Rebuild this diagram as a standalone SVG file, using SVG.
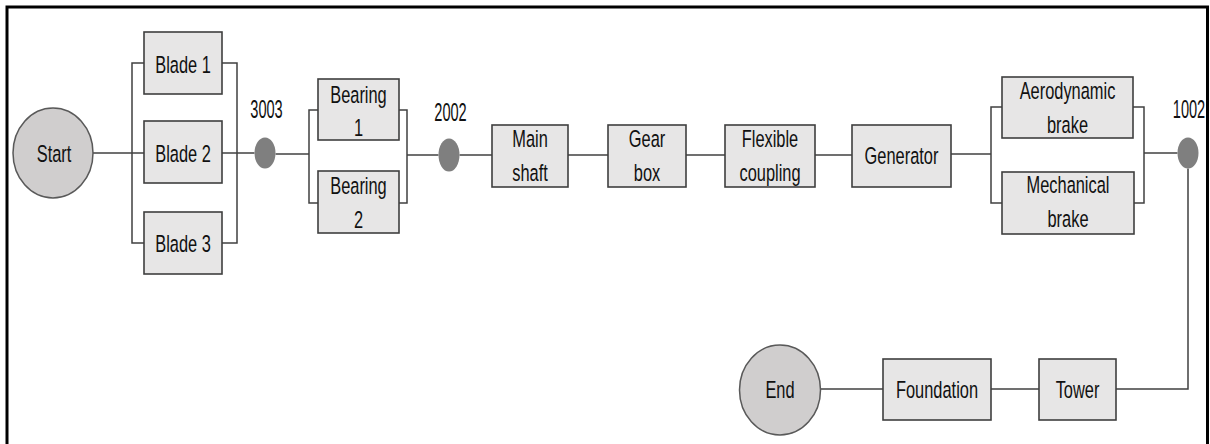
<svg xmlns="http://www.w3.org/2000/svg" width="1210" height="444" viewBox="0 0 1210 444">
<style>
.box{fill:#e7e6e6;stroke:#3f3f3f;stroke-width:1.6}
.term{fill:#d0cece;stroke:#595959;stroke-width:1.5}
.jn{fill:#7f7f7f;stroke:none}
.ln{fill:none;stroke:#404040;stroke-width:1.5}
.t{font-family:"Liberation Sans",Arial,sans-serif;font-size:16.4px;fill:#111;text-anchor:middle}
.lb{font-family:"Liberation Sans",Arial,sans-serif;font-size:14.6px;fill:#111;text-anchor:middle}
</style>
<rect x="0" y="0" width="1210" height="444" fill="#ffffff"/>
<path d="M7,444 V7 H1207.5 V444" fill="none" stroke="#000" stroke-width="3"/>
<g id="connectors">
<path class="ln" d="M93,153 H144"/>
<path class="ln" d="M144,63 H132 V243 H144"/>
<path class="ln" d="M222,63 H237 V243 H222"/>
<path class="ln" d="M222,153 H254.5"/>
<path class="ln" d="M275.5,154 H309"/>
<path class="ln" d="M318,110 H309 V203 H318"/>
<path class="ln" d="M399,110 H407 V203 H399"/>
<path class="ln" d="M407,155 H438.5"/>
<path class="ln" d="M459.5,155 H492"/>
<path class="ln" d="M568,155 H608"/>
<path class="ln" d="M686,155 H725"/>
<path class="ln" d="M815,155 H852"/>
<path class="ln" d="M951,154 H991"/>
<path class="ln" d="M1002,107 H991 V203 H1002"/>
<path class="ln" d="M1133,107 H1144 V203 H1134"/>
<path class="ln" d="M1144,153 H1177.5"/>
<path class="ln" d="M1188,168.5 V389 H1116"/>
<path class="ln" d="M1039,389 H991"/>
<path class="ln" d="M883,389 H820.5"/>
</g>
<g id="start"><ellipse class="term" cx="53" cy="153" rx="40" ry="45"/><text class="t" transform="translate(54 162) scale(1 1.42)">Start</text></g>
<g id="blade1"><rect class="box" x="144" y="32" width="78" height="62"/><text class="t" transform="translate(183 73) scale(1 1.42)">Blade 1</text></g>
<g id="blade2"><rect class="box" x="144" y="121" width="78" height="62"/><text class="t" transform="translate(183 162) scale(1 1.42)">Blade 2</text></g>
<g id="blade3"><rect class="box" x="144" y="212" width="78" height="62"/><text class="t" transform="translate(183 252) scale(1 1.42)">Blade 3</text></g>
<g id="j3003"><ellipse class="jn" cx="265" cy="153" rx="10.5" ry="15.5"/><text class="lb" transform="translate(266.5 118) scale(1 1.72)">3003</text></g>
<g id="bearing1"><rect class="box" x="318" y="79" width="81" height="61"/><text class="t" transform="translate(358.5 103) scale(1 1.42)">Bearing</text><text class="t" transform="translate(358.5 136) scale(1 1.42)">1</text></g>
<g id="bearing2"><rect class="box" x="318" y="171" width="81" height="62"/><text class="t" transform="translate(358.5 194) scale(1 1.42)">Bearing</text><text class="t" transform="translate(358.5 228) scale(1 1.42)">2</text></g>
<g id="j2002"><ellipse class="jn" cx="449" cy="155" rx="10.5" ry="16.5"/><text class="lb" transform="translate(450.5 121) scale(1 1.72)">2002</text></g>
<g id="mainshaft"><rect class="box" x="492" y="125" width="76" height="62"/><text class="t" transform="translate(530 147) scale(1 1.42)">Main</text><text class="t" transform="translate(530 181) scale(1 1.42)">shaft</text></g>
<g id="gearbox"><rect class="box" x="608" y="125" width="78" height="62"/><text class="t" transform="translate(647 147) scale(1 1.42)">Gear</text><text class="t" transform="translate(647 181) scale(1 1.42)">box</text></g>
<g id="coupling"><rect class="box" x="725" y="125" width="90" height="62"/><text class="t" transform="translate(770 147) scale(1 1.42)">Flexible</text><text class="t" transform="translate(770 181) scale(1 1.42)">coupling</text></g>
<g id="generator"><rect class="box" x="852" y="125" width="99" height="62"/><text class="t" transform="translate(901.5 164) scale(1 1.42)">Generator</text></g>
<g id="aero"><rect class="box" x="1002" y="77" width="131" height="61"/><text class="t" transform="translate(1067.5 99) scale(1 1.42)">Aerodynamic</text><text class="t" transform="translate(1067.5 133) scale(1 1.42)">brake</text></g>
<g id="mech"><rect class="box" x="1002" y="172" width="132" height="62"/><text class="t" transform="translate(1068 193) scale(1 1.42)">Mechanical</text><text class="t" transform="translate(1068 227) scale(1 1.42)">brake</text></g>
<g id="j1002"><ellipse class="jn" cx="1188" cy="153" rx="10.5" ry="15.5"/><text class="lb" transform="translate(1189 118) scale(1 1.72)">1002</text></g>
<g id="tower"><rect class="box" x="1039" y="359" width="77" height="61"/><text class="t" transform="translate(1077.5 398) scale(1 1.42)">Tower</text></g>
<g id="foundation"><rect class="box" x="883" y="359" width="108" height="61"/><text class="t" transform="translate(937 398) scale(1 1.42)">Foundation</text></g>
<g id="end"><ellipse class="term" cx="780" cy="390" rx="40.5" ry="45"/><text class="t" transform="translate(780 398) scale(1 1.42)">End</text></g>
</svg>
